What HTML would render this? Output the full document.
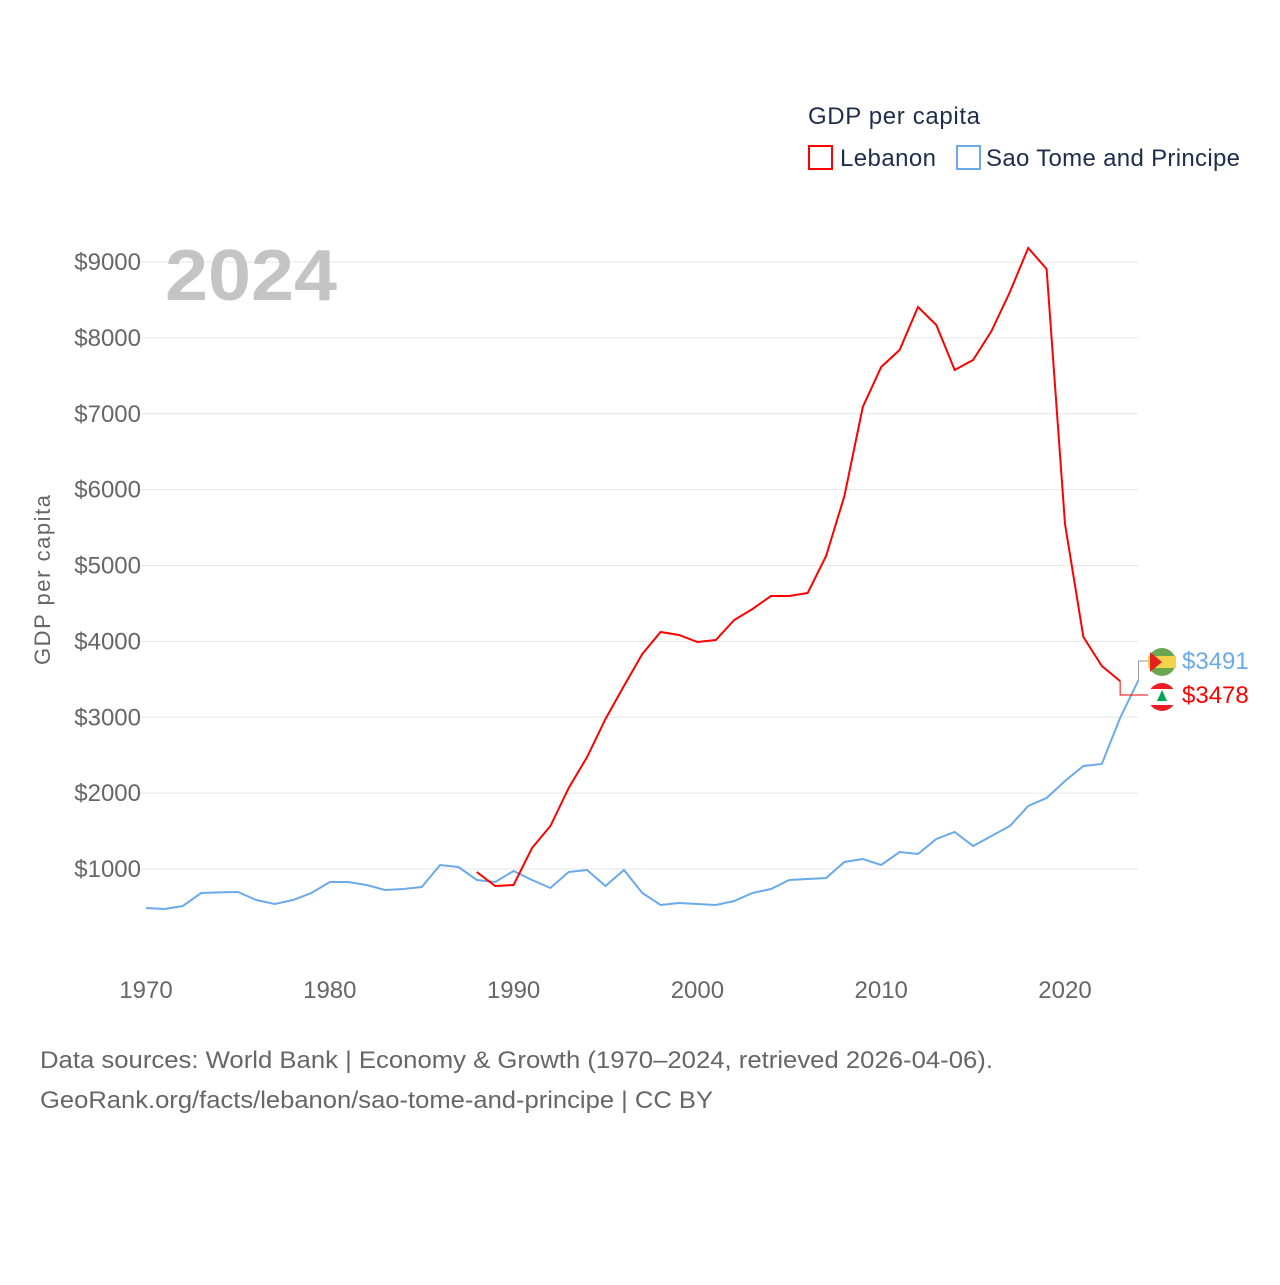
<!DOCTYPE html>
<html><head><meta charset="utf-8"><style>
body{margin:0;background:#fff;font-family:"Liberation Sans",sans-serif}
</style></head><body>
<svg id="chart" width="1280" height="1280" viewBox="0 0 1280 1280" xmlns="http://www.w3.org/2000/svg" font-family="Liberation Sans, sans-serif">
<text x="808" y="124" font-size="24" fill="#1f2d4d" textLength="172">GDP per capita</text>
<g><rect x="809" y="146" width="23" height="23" fill="none" stroke="#f00" stroke-width="2"/><text x="840" y="166" font-size="24" fill="#1f2d4d" textLength="96">Lebanon</text></g>
<g><rect x="957" y="146" width="23" height="23" fill="none" stroke="#6aaaea" stroke-width="2"/><text x="986" y="166" font-size="24" fill="#1f2d4d" textLength="254">Sao Tome and Principe</text></g>
<g id="grid"></g>
<text x="165" y="300" font-size="72" font-weight="bold" fill="#c4c4c4" textLength="172" lengthAdjust="spacingAndGlyphs">2024</text>
<text transform="translate(50,580) rotate(-90)" text-anchor="middle" font-size="22" fill="#666" textLength="170">GDP per capita</text>
<g id="series"></g>
<text x="40" y="1068" font-size="24" fill="#666" textLength="953" lengthAdjust="spacingAndGlyphs">Data sources: World Bank | Economy &amp; Growth (1970–2024, retrieved 2026-04-06).</text>
<text x="40" y="1108" font-size="24" fill="#666" textLength="673" lengthAdjust="spacingAndGlyphs">GeoRank.org/facts/lebanon/sao-tome-and-principe | CC BY</text>
</svg>
<script>
const yTicks=[1000,2000,3000,4000,5000,6000,7000,8000,9000];
const xTicks=[1970,1980,1990,2000,2010,2020];
const stpYears=[];for(let y=1970;y<=2024;y++)stpYears.push(y);
const stpValues=[486,473,512,684,692,697,591,539,591,684,829,829,789,723,736,763,1053,1026,855,829,974,855,750,960,987,776,987,684,526,552,539,526,578,684,736,855,868,881,1092,1132,1053,1224,1198,1395,1488,1303,1435,1567,1830,1936,2160,2357,2384,2990,3491];
const lbnYears=[];for(let y=1988;y<=2023;y++)lbnYears.push(y);
const lbnValues=[960,776,789,1277,1567,2068,2476,2977,3412,3834,4124,4084,3992,4018,4282,4427,4598,4598,4638,5125,5916,7089,7616,7840,8407,8170,7576,7708,8091,8605,9184,8908,5547,4058,3675,3478];
const NS='http://www.w3.org/2000/svg';
const xs=y=>146+(y-1970)*18.38;
const ys=v=>869-(v-1000)*0.075875;
function el(t,a,p){const e=document.createElementNS(NS,t);for(const k in a)e.setAttribute(k,a[k]);p.appendChild(e);return e;}
const grid=document.getElementById('grid');
yTicks.forEach(v=>{
 const l=el('line',{x1:140,x2:1138,y1:ys(v),y2:ys(v),stroke:'#e6e6e6','stroke-width':1},grid);
 
 
 const t=el('text',{x:141,y:ys(v)+8,'text-anchor':'end','font-size':24,fill:'#666'},grid);
 t.textContent='$'+v;
 
 
});
xTicks.forEach(y=>{
 const t=el('text',{x:xs(y),y:998,'text-anchor':'middle','font-size':24,fill:'#666'},grid);
 t.textContent=y;
 
 
});
const s=document.getElementById('series');
function line(years,vals,color,name){
 const p=el('path',{d:years.map((y,i)=>(i?'L':'M')+xs(y).toFixed(1)+','+ys(vals[i]).toFixed(1)).join(''),fill:'none',stroke:color,'stroke-width':2},s);
 
 
}
line(stpYears,stpValues,'#6aaaea','line-sao-tome');
line(lbnYears,lbnValues,'#f00','line-lebanon');
const sx=xs(stpYears[stpYears.length-1]),sy=ys(stpValues[stpValues.length-1]);
const lx=xs(lbnYears[lbnYears.length-1]),ly=ys(lbnValues[lbnValues.length-1]);
el('path',{d:`M${sx},${sy}L${sx},661L1150,661`,fill:'none',stroke:'#999','stroke-width':1},s);
el('path',{d:`M${lx},${ly}L${lx},695L1150,695`,fill:'none',stroke:'#f00','stroke-width':1},s);
const f1=el('g',{},s);


el('circle',{cx:1162,cy:662,r:14,fill:'#6aa84f'},f1);
el('rect',{x:1148,y:656,width:28,height:12,fill:'#f3d34a'},f1);
el('path',{d:'M1150,652L1162,662L1150,672Z',fill:'#e52020'},f1);
const f2=el('g',{},s);


el('circle',{cx:1162,cy:697,r:14,fill:'#ee1c25'},f2);
el('rect',{x:1148,y:689,width:28,height:16,fill:'#fff'},f2);
el('path',{d:'M1162,690L1167,701L1157,701Z',fill:'#00a651'},f2);
const t1=el('text',{x:1182,y:669,'font-size':24,fill:'#6aaaea'},s);
t1.textContent='$'+stpValues[stpValues.length-1];


const t2=el('text',{x:1182,y:703,'font-size':24,fill:'#f00'},s);
t2.textContent='$'+lbnValues[lbnValues.length-1];


</script>
</body></html>
